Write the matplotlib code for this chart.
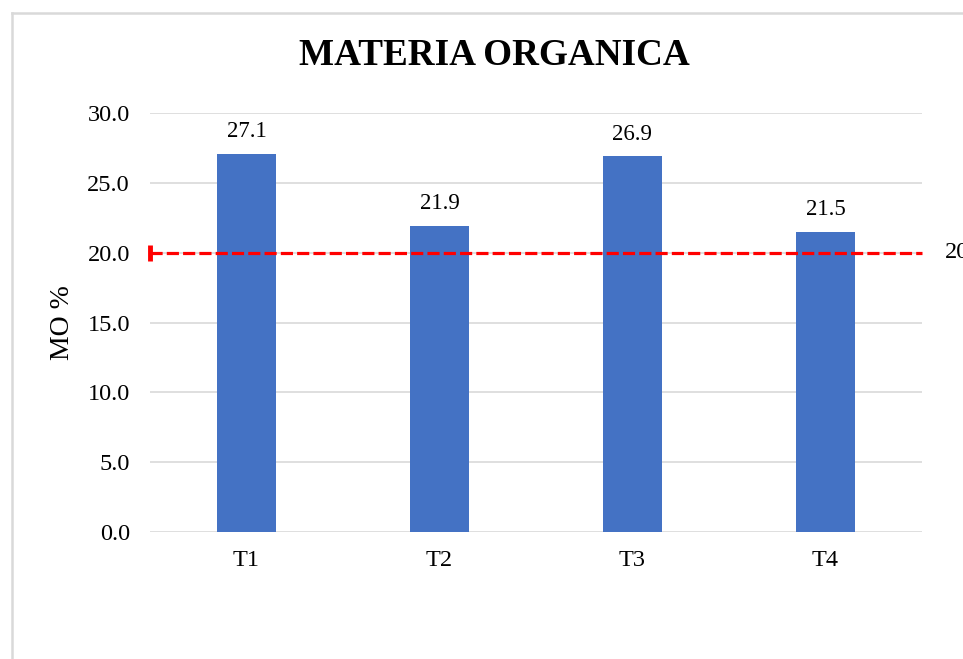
import matplotlib.pyplot as plt
from matplotlib.lines import Line2D

# organic matter content per treatment
TRATAMIENTOS = ['T1', 'T2', 'T3', 'T4']
MO = [27.1, 21.9, 26.9, 21.5]
LIMITE = 20.0
Y_TICKS = [0, 5, 10, 15, 20, 25, 30]

plt.rcParams['font.family'] = ['Liberation Serif', 'DejaVu Serif']

fig = plt.figure(figsize=(9.63, 6.59), dpi=100)
ax = fig.add_axes([0.1558, 0.1927, 0.8016, 0.6358])

x = list(range(len(TRATAMIENTOS)))
bars = ax.bar(x, MO, width=0.31, color='#4472C4', zorder=2)
for b, v in zip(bars, MO):
    ax.annotate(f'{v:.1f}', (b.get_x() + b.get_width() / 2, v),
                xytext=(0, 16), textcoords='offset points',
                ha='center', va='center', fontsize=16.5)

# reference line at 20 %
ax.plot([-0.5, len(x) - 0.5], [LIMITE, LIMITE], color='#FF0000', lw=2.3,
        dashes=(3.8, 1.3), zorder=3, clip_on=False,
        marker='|', markevery=[0], markersize=12, markeredgewidth=3.5)
ax.text(len(x) - 0.5 + 0.12, LIMITE, f'{LIMITE:.0f}', fontsize=17.5,
        va='center', ha='left', clip_on=False)

ax.set_xlim(-0.5, len(x) - 0.5)
ax.set_ylim(0, 30)
ax.set_yticks(Y_TICKS)
ax.set_yticklabels([f'{t:.1f}' for t in Y_TICKS], fontsize=17.5)
ax.set_xticks(x)
ax.set_xticklabels(TRATAMIENTOS, fontsize=17.5)
ax.tick_params(length=0)
ax.tick_params(axis='x', pad=13)
ax.tick_params(axis='y', pad=14.5)
ax.grid(axis='y', color='#D9D9D9', lw=1.2, zorder=0)
for s in ax.spines.values():
    s.set_visible(False)
ax.set_ylabel('MO %', fontsize=20, labelpad=9)

fig.text(0.513, 0.9165, 'MATERIA ORGANICA', ha='center', va='center',
         fontsize=26.7, fontweight='bold')

# chart frame (left and top edges)
fig.add_artist(Line2D([12 / 963, 12 / 963], [0, 1 - 13 / 659],
                      transform=fig.transFigure, color='#D9D9D9', lw=1.8))
fig.add_artist(Line2D([12 / 963, 1], [1 - 13 / 659, 1 - 13 / 659],
                      transform=fig.transFigure, color='#D9D9D9', lw=1.8))

fig.savefig('out.png', dpi=100)
